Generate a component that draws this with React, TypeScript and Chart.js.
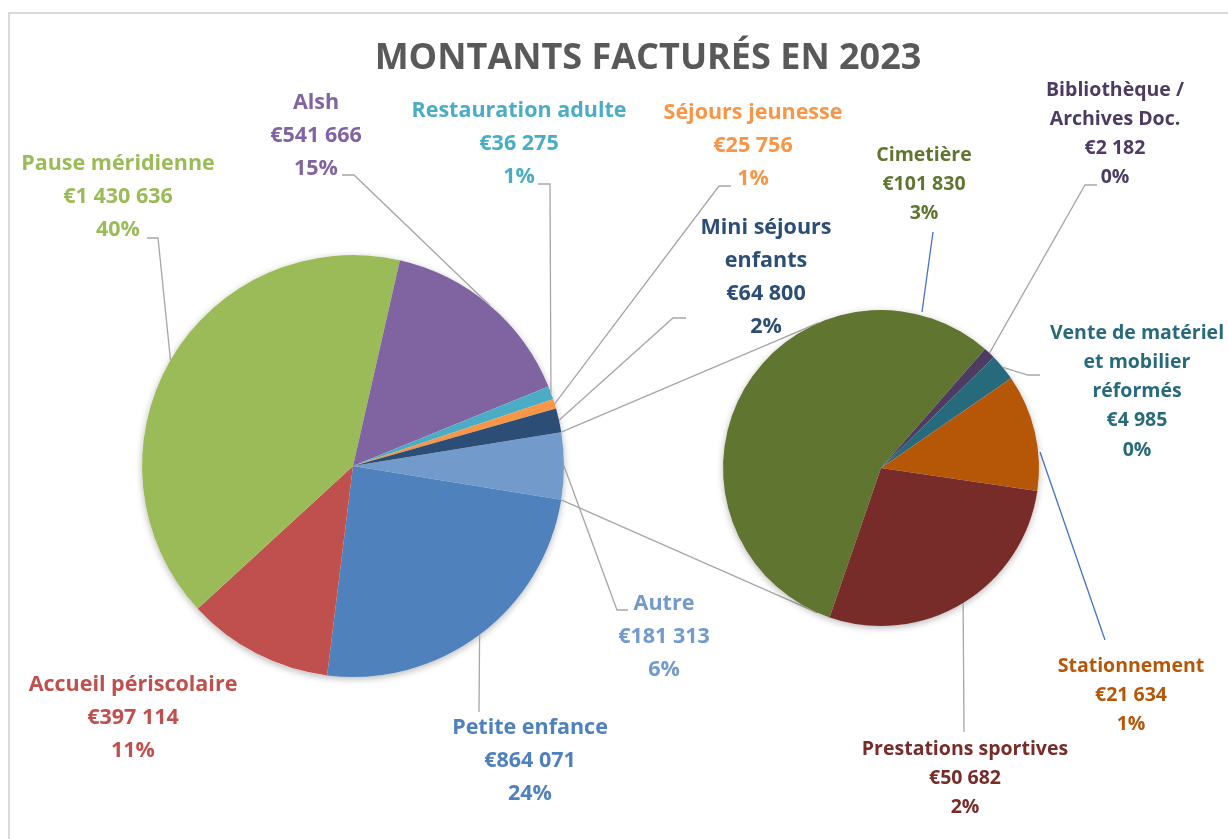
import React, { useEffect, useRef } from "react";
import { Chart, registerables } from "chart.js";

Chart.register(...registerables);

// ---------- DATA ----------
const mainCategories = [
  "Autre",
  "Petite enfance",
  "Accueil périscolaire",
  "Pause méridienne",
  "Alsh",
  "Restauration adulte",
  "Séjours jeunesse",
  "Mini séjours enfants",
];
const mainValues = [181313, 864071, 397114, 1430636, 541666, 36275, 25756, 64800];
const mainPctLabels = ["6%", "24%", "11%", "40%", "15%", "1%", "1%", "2%"];

const subCategories = [
  "Cimetière",
  "Bibliothèque / Archives Doc.",
  "Vente de matériel et mobilier réformés",
  "Stationnement",
  "Prestations sportives",
];
const subValues = [101830, 2182, 4985, 21634, 50682];
const subPctLabels = ["3%", "0%", "0%", "1%", "2%"];

const chartTitle = "MONTANTS FACTURÉS EN 2023";

// ---------- STYLES ----------
const mainColors = ["#729ACA", "#4F81BD", "#C0504D", "#9BBB59", "#8064A2", "#4BACC6", "#F79646", "#2C4D75"];
const subColors = ["#5F7530", "#4D3B62", "#276A7C", "#B65708", "#772C2A"];
const FONT = "'Open Sans'";

type Pt = [number, number];
type LabelSpec = { lines?: string[]; cx: number; y0: number; leader?: Pt[] };

const mainLayout: LabelSpec[] = [
  { cx: 664, y0: 604, leader: [[617, 610], [628, 610]] },
  { cx: 530, y0: 728, leader: [[479, 712]] },
  { cx: 133, y0: 685 },
  { cx: 118, y0: 164, leader: [[158, 238], [147, 238]] },
  { cx: 316, y0: 103, leader: [[354, 175], [342, 175]] },
  { cx: 519, y0: 111, leader: [[550, 184], [538, 184]] },
  { cx: 753, y0: 113, leader: [[719, 186], [731, 186]] },
  { lines: ["Mini séjours", "enfants"], cx: 766, y0: 228, leader: [[673, 318], [686, 318]] },
];

const subLayout: LabelSpec[] = [
  { cx: 924, y0: 155 },
  { lines: ["Bibliothèque /", "Archives Doc."], cx: 1115, y0: 90, leader: [[1085, 185], [1097, 185]] },
  { lines: ["Vente de matériel", "et mobilier", "réformés"], cx: 1137, y0: 333, leader: [[1028, 375], [1040, 375]] },
  { cx: 1131, y0: 666 },
  { cx: 965, y0: 749, leader: [[964, 732]] },
];

const blueNotes: Pt[][] = [
  [[933, 232], [922, 312]],
  [[1040, 452], [1105, 640]],
];

const W = 1228;
const H = 839;

function fmt(n: number) {
  return String(n).replace(/\B(?=(\d{3})+(?!\d))/g, " ");
}

function arcProps(arc: any) {
  return arc.getProps(["x", "y", "startAngle", "endAngle", "outerRadius"], true);
}

function drawShadowDisc(chart: any) {
  const meta = chart.getDatasetMeta(0);
  if (!meta.data.length) return;
  const { x, y, outerRadius } = arcProps(meta.data[0]);
  const ctx = chart.ctx;
  ctx.save();
  ctx.beginPath();
  ctx.arc(x, y, outerRadius, 0, Math.PI * 2);
  ctx.fillStyle = "#ffffff";
  ctx.shadowColor = "rgba(0,0,0,0.28)";
  ctx.shadowBlur = 7;
  ctx.shadowOffsetX = 0;
  ctx.shadowOffsetY = 2;
  ctx.fill();
  ctx.restore();
}

function drawLabels(
  chart: any,
  layout: LabelSpec[],
  names: string[],
  values: number[],
  pcts: string[],
  colors: string[],
  fontPx: number,
  lineH: number
) {
  const ctx = chart.ctx;
  const meta = chart.getDatasetMeta(0);
  ctx.save();
  meta.data.forEach((arc: any, i: number) => {
    const L = layout[i];
    const { x, y, startAngle, endAngle, outerRadius } = arcProps(arc);
    if (L.leader) {
      const mid = (startAngle + endAngle) / 2;
      ctx.beginPath();
      ctx.moveTo(x + outerRadius * Math.cos(mid), y + outerRadius * Math.sin(mid));
      L.leader.forEach(([px, py]) => ctx.lineTo(px, py));
      ctx.strokeStyle = "#A6A6A6";
      ctx.lineWidth = 1.3;
      ctx.stroke();
    }
    const lines = [...(L.lines ?? [names[i]]), "€" + fmt(values[i]), pcts[i]];
    ctx.font = `bold ${fontPx}px ${FONT}`;
    ctx.fillStyle = colors[i];
    ctx.textAlign = "center";
    ctx.textBaseline = "middle";
    lines.forEach((t, k) => ctx.fillText(t, L.cx, L.y0 + k * lineH));
  });
  ctx.restore();
}

function tangentPoint(px: number, py: number, cx: number, cy: number, r: number, upper: boolean): Pt {
  const dx = px - cx;
  const dy = py - cy;
  const d = Math.hypot(dx, dy);
  const phi = Math.atan2(dy, dx);
  const a = Math.acos(Math.min(1, r / d));
  const t1: Pt = [cx + r * Math.cos(phi + a), cy + r * Math.sin(phi + a)];
  const t2: Pt = [cx + r * Math.cos(phi - a), cy + r * Math.sin(phi - a)];
  if (upper) return t1[1] < t2[1] ? t1 : t2;
  return t1[1] > t2[1] ? t1 : t2;
}

export default function App() {
  const mainRef = useRef<HTMLCanvasElement | null>(null);
  const subRef = useRef<HTMLCanvasElement | null>(null);

  useEffect(() => {
    let mainChart: any = null;
    let subChart: any = null;
    let cancelled = false;

    const build = () => {
      if (cancelled || !mainRef.current || !subRef.current) return;
      const total = mainValues.reduce((a, b) => a + b, 0);
      const autreDeg = (360 * mainValues[0]) / total;

      mainChart = new Chart(mainRef.current, {
        type: "pie",
        data: {
          labels: mainCategories,
          datasets: [
            {
              data: mainValues,
              backgroundColor: mainColors,
              borderWidth: 0,
              hoverBorderWidth: 0,
              hoverOffset: 0,
              offset: 0,
            } as any,
          ],
        },
        options: {
          responsive: false,
          maintainAspectRatio: false,
          animation: false,
          events: [],
          rotation: 90 - autreDeg / 2,
          layout: { padding: { left: 142, top: 255, right: W - 564, bottom: H - 677 } },
          plugins: { legend: { display: false }, tooltip: { enabled: false }, title: { display: false } },
        },
        plugins: [
          {
            id: "mainDecor",
            beforeDatasetsDraw(chart: any) {
              drawShadowDisc(chart);
            },
            afterDatasetsDraw(chart: any) {
              const ctx = chart.ctx;
              ctx.save();
              ctx.font = `bold 36px ${FONT}`;
              const w = ctx.measureText(chartTitle).width;
              const size = Math.min(40, (36 * 547) / Math.max(1, w));
              ctx.font = `bold ${size.toFixed(1)}px ${FONT}`;
              ctx.fillStyle = "#595959";
              ctx.textAlign = "center";
              ctx.textBaseline = "middle";
              ctx.fillText(chartTitle, 648, 59);
              ctx.restore();
              drawLabels(chart, mainLayout, mainCategories, mainValues, mainPctLabels, mainColors, 21.5, 33);
            },
          },
        ],
      });

      subChart = new Chart(subRef.current, {
        type: "pie",
        data: {
          labels: subCategories,
          datasets: [
            {
              data: subValues,
              backgroundColor: subColors,
              borderWidth: 0,
              hoverBorderWidth: 0,
              hoverOffset: 0,
              offset: 0,
            } as any,
          ],
        },
        options: {
          responsive: false,
          maintainAspectRatio: false,
          animation: false,
          events: [],
          rotation: 199,
          layout: { padding: { left: 723, top: 310, right: W - 1039, bottom: H - 626 } },
          plugins: { legend: { display: false }, tooltip: { enabled: false }, title: { display: false } },
        },
        plugins: [
          {
            id: "subDecor",
            beforeDatasetsDraw(chart: any) {
              const ctx = chart.ctx;
              const autre = arcProps(mainChart.getDatasetMeta(0).data[0]);
              const sub = arcProps(chart.getDatasetMeta(0).data[0]);
              const p1: Pt = [
                autre.x + autre.outerRadius * Math.cos(autre.startAngle),
                autre.y + autre.outerRadius * Math.sin(autre.startAngle),
              ];
              const p2: Pt = [
                autre.x + autre.outerRadius * Math.cos(autre.endAngle),
                autre.y + autre.outerRadius * Math.sin(autre.endAngle),
              ];
              const t1 = tangentPoint(p1[0], p1[1], sub.x, sub.y, sub.outerRadius, true);
              const t2 = tangentPoint(p2[0], p2[1], sub.x, sub.y, sub.outerRadius, false);
              ctx.save();
              ctx.strokeStyle = "#A6A6A6";
              ctx.lineWidth = 1.3;
              ctx.beginPath();
              ctx.moveTo(p1[0], p1[1]);
              ctx.lineTo(t1[0], t1[1]);
              ctx.moveTo(p2[0], p2[1]);
              ctx.lineTo(t2[0], t2[1]);
              ctx.stroke();
              ctx.restore();
              drawShadowDisc(chart);
            },
            afterDatasetsDraw(chart: any) {
              const ctx = chart.ctx;
              ctx.save();
              ctx.strokeStyle = "#4472C4";
              ctx.lineWidth = 1.3;
              blueNotes.forEach((seg) => {
                ctx.beginPath();
                ctx.moveTo(seg[0][0], seg[0][1]);
                ctx.lineTo(seg[1][0], seg[1][1]);
                ctx.stroke();
              });
              ctx.restore();
              drawLabels(chart, subLayout, subCategories, subValues, subPctLabels, subColors, 19.5, 29.3);
            },
          },
        ],
      });
    };

    const fontsApi: any = (document as any).fonts;
    if (fontsApi && fontsApi.load) {
      Promise.all([fontsApi.load(`bold 20px ${FONT}`), fontsApi.load(`bold 36px ${FONT}`)])
        .catch(() => null)
        .then(() => build());
    } else {
      build();
    }

    return () => {
      cancelled = true;
      if (mainChart) mainChart.destroy();
      if (subChart) subChart.destroy();
    };
  }, []);

  return (
    <div
      style={{
        position: "fixed",
        left: 0,
        top: 0,
        width: W,
        height: H,
        overflow: "hidden",
        background: "#ffffff",
      }}
    >
      <div
        style={{
          position: "absolute",
          left: 8,
          top: 12,
          width: W + 40,
          height: H + 40,
          border: "2px solid #D9D9D9",
          boxSizing: "border-box",
        }}
      />
      <canvas ref={mainRef} width={W} height={H} style={{ position: "absolute", left: 0, top: 0 }} />
      <canvas ref={subRef} width={W} height={H} style={{ position: "absolute", left: 0, top: 0 }} />
    </div>
  );
}
